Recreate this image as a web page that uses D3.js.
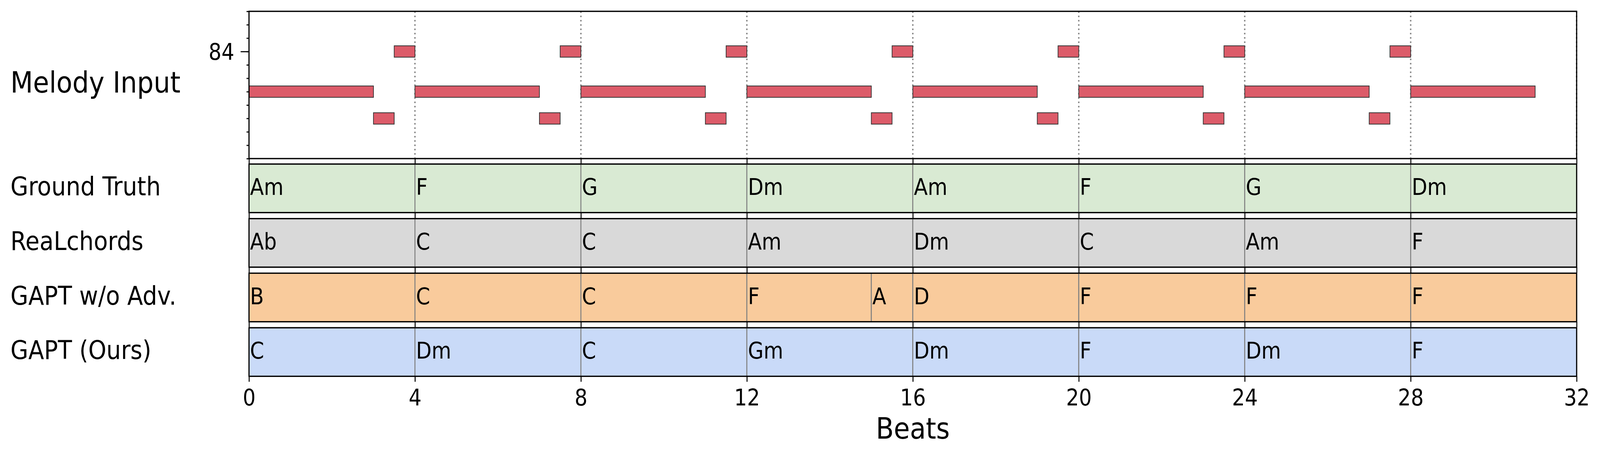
<!DOCTYPE html>
<html>
<head>
<meta charset="utf-8">
<script src="https://cdn.jsdelivr.net/npm/d3@7"></script>
<style>
  html, body { margin: 0; padding: 0; background: #fff; overflow: hidden; }
  #chart { display: block; width: 100vw; height: 100vh; }
  text { font-family: "DejaVu Sans", sans-serif; }
</style>
</head>
<body>
<svg id="chart"></svg>
<script>
/// DATA ///
// melody notes (beats, MIDI pitch)
const noteStart = [0, 3, 3.5, 4, 7, 7.5, 8, 11, 11.5, 12, 15, 15.5,
  16, 19, 19.5, 20, 23, 23.5, 24, 27, 27.5, 28];
const noteEnd = [3, 3.5, 4, 7, 7.5, 8, 11, 11.5, 12, 15, 15.5, 16,
  19, 19.5, 20, 23, 23.5, 24, 27, 27.5, 28, 31];
const notePitch = [81, 79, 84, 81, 79, 84, 81, 79, 84, 81, 79, 84,
  81, 79, 84, 81, 79, 84, 81, 79, 84, 81];

const rowNames = ["Ground Truth", "ReaLchords", "GAPT w/o Adv.", "GAPT (Ours)"];
const rowColors = ["#d9ead3", "#d9d9d9", "#f9cb9c", "#c9daf8"];

// chord boundaries (beats) + labels per row
const gtBounds = [0, 4, 8, 12, 16, 20, 24, 28, 32];
const gtChords = ["Am", "F", "G", "Dm", "Am", "F", "G", "Dm"];
const rlBounds = [0, 4, 8, 12, 16, 20, 24, 28, 32];
const rlChords = ["Ab", "C", "C", "Am", "Dm", "C", "Am", "F"];
const noAdvBounds = [0, 4, 8, 12, 15, 16, 20, 24, 28, 32];
const noAdvChords = ["B", "C", "C", "F", "A", "D", "F", "F", "F"];
const oursBounds = [0, 4, 8, 12, 16, 20, 24, 28, 32];
const oursChords = ["C", "Dm", "C", "Gm", "Dm", "F", "Dm", "F"];

const xTicks = [0, 4, 8, 12, 16, 20, 24, 28, 32];
const barLines = [4, 8, 12, 16, 20, 24, 28, 32];
const yMinorTicks = [76, 77, 78, 79, 80, 81, 82, 83, 84, 85, 86, 87];
const yMajorTicks = [84];

/// SVG ///
// drawn in a 4588x1170 frame, stretched to whatever the window gives
const W = 4588, H = 1170;
const svg = d3.select("#chart")
  .attr("viewBox", `0 0 ${W} ${H}`)
  .attr("preserveAspectRatio", "none");
svg.append("rect").attr("width", W).attr("height", H).attr("fill", "#fff");

const left = 714, right = 4521;
const x = d3.scaleLinear().domain([0, 32]).range([left, right]);

const melTop = 29, melBot = 406;
const y = d3.scaleLinear().domain([76, 87]).range([melBot, melTop]);

const spineW = 3.3;

// x ticks under a panel (no labels)
function gapTicks(yPos) {
  const g = svg.append("g")
    .attr("transform", `translate(0,${yPos})`)
    .call(d3.axisBottom(x).tickValues(xTicks).tickSize(14).tickFormat(""));
  g.select(".domain").remove();
  g.selectAll(".tick line").attr("stroke", "#000").attr("stroke-width", 2.8);
  return g;
}

//////// MELODY PANEL ////////
const mel = svg.append("g");

mel.selectAll(".barline")
  .data(barLines)
  .enter()
  .append("line")
  .attr("class", "barline")
  .attr("x1", (d) => x(d))
  .attr("x2", (d) => x(d))
  .attr("y1", melTop)
  .attr("y2", melBot)
  .attr("stroke", "#888")
  .attr("stroke-width", 4)
  .attr("stroke-dasharray", "4,7");

const noteH = 0.85;
mel.selectAll(".note")
  .data(noteStart.map((s, i) => ({ s: s, e: noteEnd[i], p: notePitch[i] })))
  .enter()
  .append("rect")
  .attr("class", "note")
  .attr("x", (d) => x(d.s))
  .attr("width", (d) => x(d.e) - x(d.s))
  .attr("y", (d) => y(d.p + noteH / 2))
  .attr("height", (d) => y(d.p - noteH / 2) - y(d.p + noteH / 2))
  .attr("fill", "#dc5b69")
  .attr("stroke", "#333")
  .attr("stroke-width", 2);

gapTicks(melBot);

mel.append("rect")
  .attr("x", left).attr("y", melTop)
  .attr("width", right - left).attr("height", melBot - melTop)
  .attr("fill", "none").attr("stroke", "#000").attr("stroke-width", spineW);

// y axis: minor + major
const yMinor = mel.append("g")
  .attr("transform", `translate(${left},0)`)
  .call(d3.axisLeft(y).tickValues(yMinorTicks).tickSize(7).tickFormat(""));
yMinor.select(".domain").remove();
yMinor.selectAll(".tick line").attr("stroke-width", 2.8);

const yMajor = mel.append("g")
  .attr("transform", `translate(${left},0)`)
  .call(d3.axisLeft(y).tickValues(yMajorTicks).tickSize(24).tickPadding(18));
yMajor.select(".domain").remove();
yMajor.selectAll(".tick line").attr("stroke-width", 2.8);
yMajor.selectAll(".tick text")
  .attr("font-size", 58)
  .attr("font-family", "DejaVu Sans")
  .attr("dy", 21);

svg.append("text")
  .attr("x", 30)
  .attr("y", (melTop + melBot) / 2 + 20)
  .attr("font-size", 75)
  .text("Melody Input");

//////// CHORD PANELS ////////
const rows = [
  { bounds: gtBounds, chords: gtChords },
  { bounds: rlBounds, chords: rlChords },
  { bounds: noAdvBounds, chords: noAdvChords },
  { bounds: oursBounds, chords: oursChords },
];

const rowTop0 = 420, rowStep = 139.7, rowH = 124.3;

rows.forEach(function (row, r) {
  const top = rowTop0 + r * rowStep;
  const g = svg.append("g").attr("class", "chordRow");
  const segs = row.chords.map((c, i) => ({
    name: c,
    start: row.bounds[i],
    end: row.bounds[i + 1],
  }));

  g.selectAll(".chord")
    .data(segs)
    .enter()
    .append("rect")
    .attr("class", "chord")
    .attr("x", (d) => x(d.start))
    .attr("width", (d) => x(d.end) - x(d.start))
    .attr("y", top)
    .attr("height", rowH)
    .attr("fill", rowColors[r])
    .attr("stroke", "#808080")
    .attr("stroke-width", 2.7);

  g.selectAll(".chordLabel")
    .data(segs)
    .enter()
    .append("text")
    .attr("class", "chordLabel")
    .attr("x", (d) => x(d.start) + 3)
    .attr("y", top + rowH / 2 + 17)
    .attr("font-size", 58)
    .text((d) => d.name);

  g.append("rect")
    .attr("x", left).attr("y", top)
    .attr("width", right - left).attr("height", rowH)
    .attr("fill", "none").attr("stroke", "#000").attr("stroke-width", spineW);

  svg.append("text")
    .attr("x", 30)
    .attr("y", top + rowH / 2 + 18)
    .attr("font-size", 66)
    .text(rowNames[r]);

  const ax = gapTicks(top + rowH);
  if (r === rows.length - 1) {
    ax.selectAll(".tick text")
      .text((d) => d)
      .attr("font-size", 58)
      .attr("font-family", "DejaVu Sans")
      .attr("fill", "#000")
      .attr("y", 75)
      .attr("dy", 0);
  }
});

svg.append("text")
  .attr("x", (left + right) / 2)
  .attr("y", 1123)
  .attr("text-anchor", "middle")
  .attr("font-size", 75)
  .text("Beats");
</script>
</body>
</html>
